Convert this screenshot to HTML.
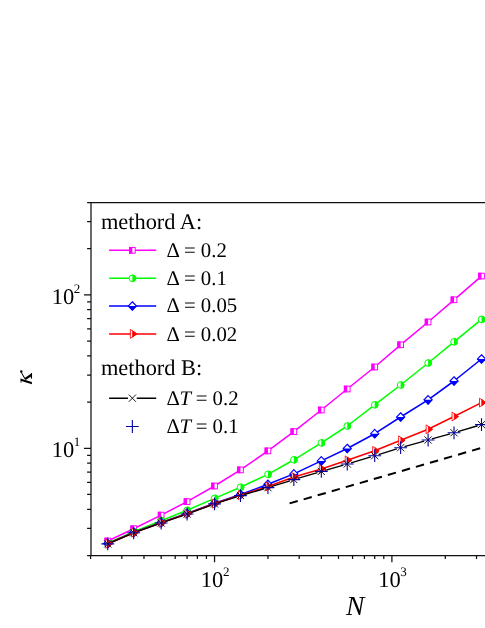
<!DOCTYPE html>
<html><head><meta charset="utf-8"><title>kappa vs N</title>
<style>html,body{margin:0;padding:0;background:#fff;}svg{display:block;text-rendering:geometricPrecision;}text{font-family:"Liberation Serif",serif;fill:#000;filter:grayscale(1);}</style>
</head><body>
<svg width="485" height="628" viewBox="0 0 485 628">
<rect width="485" height="628" fill="#fff"/>
<polyline fill="none" stroke="#ff00ff" stroke-width="1.55" stroke-linejoin="round" points="107.77,541 133.69,528.7 161.16,515.1 187.08,501.6 214.55,486 240.47,469.9 267.94,450.9 293.85,431.6 321.33,410 347.24,389 374.71,367 400.63,344.8 428.1,322 454.02,299.8 481.49,276.1"/>
<rect x="104.92" y="538.15" width="5.7" height="5.7" fill="#fff" stroke="#ff00ff" stroke-width="1"/>
<rect x="104.42" y="537.65" width="3.35" height="6.7" fill="#ff00ff"/>
<rect x="130.84" y="525.85" width="5.7" height="5.7" fill="#fff" stroke="#ff00ff" stroke-width="1"/>
<rect x="130.34" y="525.35" width="3.35" height="6.7" fill="#ff00ff"/>
<rect x="158.31" y="512.25" width="5.7" height="5.7" fill="#fff" stroke="#ff00ff" stroke-width="1"/>
<rect x="157.81" y="511.75" width="3.35" height="6.7" fill="#ff00ff"/>
<rect x="184.23" y="498.75" width="5.7" height="5.7" fill="#fff" stroke="#ff00ff" stroke-width="1"/>
<rect x="183.73" y="498.25" width="3.35" height="6.7" fill="#ff00ff"/>
<rect x="211.7" y="483.15" width="5.7" height="5.7" fill="#fff" stroke="#ff00ff" stroke-width="1"/>
<rect x="211.2" y="482.65" width="3.35" height="6.7" fill="#ff00ff"/>
<rect x="237.62" y="467.05" width="5.7" height="5.7" fill="#fff" stroke="#ff00ff" stroke-width="1"/>
<rect x="237.12" y="466.55" width="3.35" height="6.7" fill="#ff00ff"/>
<rect x="265.09" y="448.05" width="5.7" height="5.7" fill="#fff" stroke="#ff00ff" stroke-width="1"/>
<rect x="264.59" y="447.55" width="3.35" height="6.7" fill="#ff00ff"/>
<rect x="291" y="428.75" width="5.7" height="5.7" fill="#fff" stroke="#ff00ff" stroke-width="1"/>
<rect x="290.5" y="428.25" width="3.35" height="6.7" fill="#ff00ff"/>
<rect x="318.48" y="407.15" width="5.7" height="5.7" fill="#fff" stroke="#ff00ff" stroke-width="1"/>
<rect x="317.98" y="406.65" width="3.35" height="6.7" fill="#ff00ff"/>
<rect x="344.39" y="386.15" width="5.7" height="5.7" fill="#fff" stroke="#ff00ff" stroke-width="1"/>
<rect x="343.89" y="385.65" width="3.35" height="6.7" fill="#ff00ff"/>
<rect x="371.86" y="364.15" width="5.7" height="5.7" fill="#fff" stroke="#ff00ff" stroke-width="1"/>
<rect x="371.36" y="363.65" width="3.35" height="6.7" fill="#ff00ff"/>
<rect x="397.78" y="341.95" width="5.7" height="5.7" fill="#fff" stroke="#ff00ff" stroke-width="1"/>
<rect x="397.28" y="341.45" width="3.35" height="6.7" fill="#ff00ff"/>
<rect x="425.25" y="319.15" width="5.7" height="5.7" fill="#fff" stroke="#ff00ff" stroke-width="1"/>
<rect x="424.75" y="318.65" width="3.35" height="6.7" fill="#ff00ff"/>
<rect x="451.17" y="296.95" width="5.7" height="5.7" fill="#fff" stroke="#ff00ff" stroke-width="1"/>
<rect x="450.67" y="296.45" width="3.35" height="6.7" fill="#ff00ff"/>
<rect x="478.64" y="273.25" width="5.7" height="5.7" fill="#fff" stroke="#ff00ff" stroke-width="1"/>
<rect x="478.14" y="272.75" width="3.35" height="6.7" fill="#ff00ff"/>
<polyline fill="none" stroke="#00ff00" stroke-width="1.55" stroke-linejoin="round" points="107.77,543.3 133.69,531.6 161.16,520.8 187.08,510.3 214.55,498.4 240.47,487.2 267.94,474.4 293.85,459.8 321.33,442.9 347.24,426 374.71,404.8 400.63,385 428.1,363 454.02,341.8 481.49,319.4"/>
<circle cx="107.77" cy="543.3" r="3.3" fill="#fff" stroke="#00ff00" stroke-width="1"/>
<path d="M107.77 539.5 A3.8 3.8 0 0 1 107.77 547.1 Z" fill="#00ff00"/>
<circle cx="133.69" cy="531.6" r="3.3" fill="#fff" stroke="#00ff00" stroke-width="1"/>
<path d="M133.69 527.8 A3.8 3.8 0 0 1 133.69 535.4 Z" fill="#00ff00"/>
<circle cx="161.16" cy="520.8" r="3.3" fill="#fff" stroke="#00ff00" stroke-width="1"/>
<path d="M161.16 517 A3.8 3.8 0 0 1 161.16 524.6 Z" fill="#00ff00"/>
<circle cx="187.08" cy="510.3" r="3.3" fill="#fff" stroke="#00ff00" stroke-width="1"/>
<path d="M187.08 506.5 A3.8 3.8 0 0 1 187.08 514.1 Z" fill="#00ff00"/>
<circle cx="214.55" cy="498.4" r="3.3" fill="#fff" stroke="#00ff00" stroke-width="1"/>
<path d="M214.55 494.6 A3.8 3.8 0 0 1 214.55 502.2 Z" fill="#00ff00"/>
<circle cx="240.47" cy="487.2" r="3.3" fill="#fff" stroke="#00ff00" stroke-width="1"/>
<path d="M240.47 483.4 A3.8 3.8 0 0 1 240.47 491 Z" fill="#00ff00"/>
<circle cx="267.94" cy="474.4" r="3.3" fill="#fff" stroke="#00ff00" stroke-width="1"/>
<path d="M267.94 470.6 A3.8 3.8 0 0 1 267.94 478.2 Z" fill="#00ff00"/>
<circle cx="293.85" cy="459.8" r="3.3" fill="#fff" stroke="#00ff00" stroke-width="1"/>
<path d="M293.85 456 A3.8 3.8 0 0 1 293.85 463.6 Z" fill="#00ff00"/>
<circle cx="321.33" cy="442.9" r="3.3" fill="#fff" stroke="#00ff00" stroke-width="1"/>
<path d="M321.33 439.1 A3.8 3.8 0 0 1 321.33 446.7 Z" fill="#00ff00"/>
<circle cx="347.24" cy="426" r="3.3" fill="#fff" stroke="#00ff00" stroke-width="1"/>
<path d="M347.24 422.2 A3.8 3.8 0 0 1 347.24 429.8 Z" fill="#00ff00"/>
<circle cx="374.71" cy="404.8" r="3.3" fill="#fff" stroke="#00ff00" stroke-width="1"/>
<path d="M374.71 401 A3.8 3.8 0 0 1 374.71 408.6 Z" fill="#00ff00"/>
<circle cx="400.63" cy="385" r="3.3" fill="#fff" stroke="#00ff00" stroke-width="1"/>
<path d="M400.63 381.2 A3.8 3.8 0 0 1 400.63 388.8 Z" fill="#00ff00"/>
<circle cx="428.1" cy="363" r="3.3" fill="#fff" stroke="#00ff00" stroke-width="1"/>
<path d="M428.1 359.2 A3.8 3.8 0 0 1 428.1 366.8 Z" fill="#00ff00"/>
<circle cx="454.02" cy="341.8" r="3.3" fill="#fff" stroke="#00ff00" stroke-width="1"/>
<path d="M454.02 338 A3.8 3.8 0 0 1 454.02 345.6 Z" fill="#00ff00"/>
<circle cx="481.49" cy="319.4" r="3.3" fill="#fff" stroke="#00ff00" stroke-width="1"/>
<path d="M481.49 315.6 A3.8 3.8 0 0 1 481.49 323.2 Z" fill="#00ff00"/>
<polyline fill="none" stroke="#0000ff" stroke-width="1.55" stroke-linejoin="round" points="107.77,543.6 133.69,532.5 161.16,522.6 187.08,513.4 214.55,503.2 240.47,494.5 267.94,484.3 293.85,473.9 321.33,460.9 347.24,448.5 374.71,433.7 400.63,417 428.1,399.8 454.02,381 481.49,359"/>
<path d="M107.77 539.35 L111.82 543.6 L107.77 547.85 L103.72 543.6 Z" fill="#fff" stroke="#0000ff" stroke-width="1.15" stroke-linejoin="miter"/>
<path d="M103.12 543.6 L112.42 543.6 L107.77 548.45 Z" fill="#0000ff"/>
<path d="M133.69 528.25 L137.74 532.5 L133.69 536.75 L129.64 532.5 Z" fill="#fff" stroke="#0000ff" stroke-width="1.15" stroke-linejoin="miter"/>
<path d="M129.04 532.5 L138.34 532.5 L133.69 537.35 Z" fill="#0000ff"/>
<path d="M161.16 518.35 L165.21 522.6 L161.16 526.85 L157.11 522.6 Z" fill="#fff" stroke="#0000ff" stroke-width="1.15" stroke-linejoin="miter"/>
<path d="M156.51 522.6 L165.81 522.6 L161.16 527.45 Z" fill="#0000ff"/>
<path d="M187.08 509.15 L191.13 513.4 L187.08 517.65 L183.03 513.4 Z" fill="#fff" stroke="#0000ff" stroke-width="1.15" stroke-linejoin="miter"/>
<path d="M182.43 513.4 L191.73 513.4 L187.08 518.25 Z" fill="#0000ff"/>
<path d="M214.55 498.95 L218.6 503.2 L214.55 507.45 L210.5 503.2 Z" fill="#fff" stroke="#0000ff" stroke-width="1.15" stroke-linejoin="miter"/>
<path d="M209.9 503.2 L219.2 503.2 L214.55 508.05 Z" fill="#0000ff"/>
<path d="M240.47 490.25 L244.52 494.5 L240.47 498.75 L236.42 494.5 Z" fill="#fff" stroke="#0000ff" stroke-width="1.15" stroke-linejoin="miter"/>
<path d="M235.82 494.5 L245.12 494.5 L240.47 499.35 Z" fill="#0000ff"/>
<path d="M267.94 480.05 L271.99 484.3 L267.94 488.55 L263.89 484.3 Z" fill="#fff" stroke="#0000ff" stroke-width="1.15" stroke-linejoin="miter"/>
<path d="M263.29 484.3 L272.59 484.3 L267.94 489.15 Z" fill="#0000ff"/>
<path d="M293.85 469.65 L297.9 473.9 L293.85 478.15 L289.8 473.9 Z" fill="#fff" stroke="#0000ff" stroke-width="1.15" stroke-linejoin="miter"/>
<path d="M289.2 473.9 L298.5 473.9 L293.85 478.75 Z" fill="#0000ff"/>
<path d="M321.33 456.65 L325.38 460.9 L321.33 465.15 L317.28 460.9 Z" fill="#fff" stroke="#0000ff" stroke-width="1.15" stroke-linejoin="miter"/>
<path d="M316.68 460.9 L325.98 460.9 L321.33 465.75 Z" fill="#0000ff"/>
<path d="M347.24 444.25 L351.29 448.5 L347.24 452.75 L343.19 448.5 Z" fill="#fff" stroke="#0000ff" stroke-width="1.15" stroke-linejoin="miter"/>
<path d="M342.59 448.5 L351.89 448.5 L347.24 453.35 Z" fill="#0000ff"/>
<path d="M374.71 429.45 L378.76 433.7 L374.71 437.95 L370.66 433.7 Z" fill="#fff" stroke="#0000ff" stroke-width="1.15" stroke-linejoin="miter"/>
<path d="M370.06 433.7 L379.36 433.7 L374.71 438.55 Z" fill="#0000ff"/>
<path d="M400.63 412.75 L404.68 417 L400.63 421.25 L396.58 417 Z" fill="#fff" stroke="#0000ff" stroke-width="1.15" stroke-linejoin="miter"/>
<path d="M395.98 417 L405.28 417 L400.63 421.85 Z" fill="#0000ff"/>
<path d="M428.1 395.55 L432.15 399.8 L428.1 404.05 L424.05 399.8 Z" fill="#fff" stroke="#0000ff" stroke-width="1.15" stroke-linejoin="miter"/>
<path d="M423.45 399.8 L432.75 399.8 L428.1 404.65 Z" fill="#0000ff"/>
<path d="M454.02 376.75 L458.07 381 L454.02 385.25 L449.97 381 Z" fill="#fff" stroke="#0000ff" stroke-width="1.15" stroke-linejoin="miter"/>
<path d="M449.37 381 L458.67 381 L454.02 385.85 Z" fill="#0000ff"/>
<path d="M481.49 354.75 L485.54 359 L481.49 363.25 L477.44 359 Z" fill="#fff" stroke="#0000ff" stroke-width="1.15" stroke-linejoin="miter"/>
<path d="M476.84 359 L486.14 359 L481.49 363.85 Z" fill="#0000ff"/>
<polyline fill="none" stroke="#ff0000" stroke-width="1.55" stroke-linejoin="round" points="107.77,543.8 133.69,532.7 161.16,522.8 187.08,513.8 214.55,503.6 240.47,495.2 267.94,486.4 293.85,477.1 321.33,468.9 347.24,460.3 374.71,450.8 400.63,440.3 428.1,429.3 454.02,416.5 481.49,402.6"/>
<path d="M105.77 539.35 L112.17 543.8 L105.77 548.25 Z" fill="#fff" stroke="#ff0000" stroke-width="0.85" stroke-linejoin="miter"/>
<path d="M108.07 540.74 L112.17 543.8 L108.07 546.86 Z" fill="#ff0000" stroke="#ff0000" stroke-width="0.85"/>
<path d="M131.69 528.25 L138.09 532.7 L131.69 537.15 Z" fill="#fff" stroke="#ff0000" stroke-width="0.85" stroke-linejoin="miter"/>
<path d="M133.99 529.64 L138.09 532.7 L133.99 535.76 Z" fill="#ff0000" stroke="#ff0000" stroke-width="0.85"/>
<path d="M159.16 518.35 L165.56 522.8 L159.16 527.25 Z" fill="#fff" stroke="#ff0000" stroke-width="0.85" stroke-linejoin="miter"/>
<path d="M161.46 519.74 L165.56 522.8 L161.46 525.86 Z" fill="#ff0000" stroke="#ff0000" stroke-width="0.85"/>
<path d="M185.08 509.35 L191.48 513.8 L185.08 518.25 Z" fill="#fff" stroke="#ff0000" stroke-width="0.85" stroke-linejoin="miter"/>
<path d="M187.38 510.74 L191.48 513.8 L187.38 516.86 Z" fill="#ff0000" stroke="#ff0000" stroke-width="0.85"/>
<path d="M212.55 499.15 L218.95 503.6 L212.55 508.05 Z" fill="#fff" stroke="#ff0000" stroke-width="0.85" stroke-linejoin="miter"/>
<path d="M214.85 500.54 L218.95 503.6 L214.85 506.66 Z" fill="#ff0000" stroke="#ff0000" stroke-width="0.85"/>
<path d="M238.47 490.75 L244.87 495.2 L238.47 499.65 Z" fill="#fff" stroke="#ff0000" stroke-width="0.85" stroke-linejoin="miter"/>
<path d="M240.77 492.14 L244.87 495.2 L240.77 498.26 Z" fill="#ff0000" stroke="#ff0000" stroke-width="0.85"/>
<path d="M265.94 481.95 L272.34 486.4 L265.94 490.85 Z" fill="#fff" stroke="#ff0000" stroke-width="0.85" stroke-linejoin="miter"/>
<path d="M268.24 483.34 L272.34 486.4 L268.24 489.46 Z" fill="#ff0000" stroke="#ff0000" stroke-width="0.85"/>
<path d="M291.85 472.65 L298.25 477.1 L291.85 481.55 Z" fill="#fff" stroke="#ff0000" stroke-width="0.85" stroke-linejoin="miter"/>
<path d="M294.15 474.04 L298.25 477.1 L294.15 480.16 Z" fill="#ff0000" stroke="#ff0000" stroke-width="0.85"/>
<path d="M319.33 464.45 L325.73 468.9 L319.33 473.35 Z" fill="#fff" stroke="#ff0000" stroke-width="0.85" stroke-linejoin="miter"/>
<path d="M321.63 465.84 L325.73 468.9 L321.63 471.96 Z" fill="#ff0000" stroke="#ff0000" stroke-width="0.85"/>
<path d="M345.24 455.85 L351.64 460.3 L345.24 464.75 Z" fill="#fff" stroke="#ff0000" stroke-width="0.85" stroke-linejoin="miter"/>
<path d="M347.54 457.24 L351.64 460.3 L347.54 463.36 Z" fill="#ff0000" stroke="#ff0000" stroke-width="0.85"/>
<path d="M372.71 446.35 L379.11 450.8 L372.71 455.25 Z" fill="#fff" stroke="#ff0000" stroke-width="0.85" stroke-linejoin="miter"/>
<path d="M375.01 447.74 L379.11 450.8 L375.01 453.86 Z" fill="#ff0000" stroke="#ff0000" stroke-width="0.85"/>
<path d="M398.63 435.85 L405.03 440.3 L398.63 444.75 Z" fill="#fff" stroke="#ff0000" stroke-width="0.85" stroke-linejoin="miter"/>
<path d="M400.93 437.24 L405.03 440.3 L400.93 443.36 Z" fill="#ff0000" stroke="#ff0000" stroke-width="0.85"/>
<path d="M426.1 424.85 L432.5 429.3 L426.1 433.75 Z" fill="#fff" stroke="#ff0000" stroke-width="0.85" stroke-linejoin="miter"/>
<path d="M428.4 426.24 L432.5 429.3 L428.4 432.36 Z" fill="#ff0000" stroke="#ff0000" stroke-width="0.85"/>
<path d="M452.02 412.05 L458.42 416.5 L452.02 420.95 Z" fill="#fff" stroke="#ff0000" stroke-width="0.85" stroke-linejoin="miter"/>
<path d="M454.32 413.44 L458.42 416.5 L454.32 419.56 Z" fill="#ff0000" stroke="#ff0000" stroke-width="0.85"/>
<path d="M479.49 398.15 L485.89 402.6 L479.49 407.05 Z" fill="#fff" stroke="#ff0000" stroke-width="0.85" stroke-linejoin="miter"/>
<path d="M481.79 399.54 L485.89 402.6 L481.79 405.66 Z" fill="#ff0000" stroke="#ff0000" stroke-width="0.85"/>
<path d="M111.45 542.33 L130.01 534.37 M137.46 531.46 L157.39 524.34 M164.94 521.69 L183.3 515.31 M190.83 512.62 L210.8 505.28 M218.36 502.68 L236.66 496.82 M244.31 494.49 L264.1 488.76 M271.76 486.46 L290.03 480.79 M297.69 478.46 L317.49 472.54 M325.17 470.3 L343.39 465.1 M351.07 462.84 L370.88 456.86 M378.54 454.52 L396.81 448.88 M404.48 446.62 L424.25 441.08 M431.95 438.93 L450.16 433.87 M457.85 431.66 L477.66 425.74" stroke="#000000" stroke-width="1.35" fill="none"/>
<path d="M104.17 540.3 L111.37 547.5 M104.17 547.5 L111.37 540.3" stroke="#000000" stroke-width="0.9" fill="none"/>
<path d="M130.09 529.2 L137.29 536.4 M130.09 536.4 L137.29 529.2" stroke="#000000" stroke-width="0.9" fill="none"/>
<path d="M157.56 519.4 L164.76 526.6 M157.56 526.6 L164.76 519.4" stroke="#000000" stroke-width="0.9" fill="none"/>
<path d="M183.48 510.4 L190.68 517.6 M183.48 517.6 L190.68 510.4" stroke="#000000" stroke-width="0.9" fill="none"/>
<path d="M210.95 500.3 L218.15 507.5 M210.95 507.5 L218.15 500.3" stroke="#000000" stroke-width="0.9" fill="none"/>
<path d="M236.87 492 L244.07 499.2 M236.87 499.2 L244.07 492" stroke="#000000" stroke-width="0.9" fill="none"/>
<path d="M264.34 484.05 L271.54 491.25 M264.34 491.25 L271.54 484.05" stroke="#000000" stroke-width="0.9" fill="none"/>
<path d="M290.25 476 L297.45 483.2 M290.25 483.2 L297.45 476" stroke="#000000" stroke-width="0.9" fill="none"/>
<path d="M317.73 467.8 L324.93 475 M317.73 475 L324.93 467.8" stroke="#000000" stroke-width="0.9" fill="none"/>
<path d="M343.64 460.4 L350.84 467.6 M343.64 467.6 L350.84 460.4" stroke="#000000" stroke-width="0.9" fill="none"/>
<path d="M371.11 452.1 L378.31 459.3 M371.11 459.3 L378.31 452.1" stroke="#000000" stroke-width="0.9" fill="none"/>
<path d="M397.03 444.1 L404.23 451.3 M397.03 451.3 L404.23 444.1" stroke="#000000" stroke-width="0.9" fill="none"/>
<path d="M424.5 436.4 L431.7 443.6 M424.5 443.6 L431.7 436.4" stroke="#000000" stroke-width="0.9" fill="none"/>
<path d="M450.42 429.2 L457.62 436.4 M450.42 436.4 L457.62 429.2" stroke="#000000" stroke-width="0.9" fill="none"/>
<path d="M477.89 421 L485.09 428.2 M477.89 428.2 L485.09 421" stroke="#000000" stroke-width="0.9" fill="none"/>
<path d="M101.37 543.9 L114.17 543.9 M107.77 537.5 L107.77 550.3" stroke="#0000a0" stroke-width="1.1" fill="none"/>
<path d="M127.29 532.8 L140.09 532.8 M133.69 526.4 L133.69 539.2" stroke="#0000a0" stroke-width="1.1" fill="none"/>
<path d="M154.76 523 L167.56 523 M161.16 516.6 L161.16 529.4" stroke="#0000a0" stroke-width="1.1" fill="none"/>
<path d="M180.68 514 L193.48 514 M187.08 507.6 L187.08 520.4" stroke="#0000a0" stroke-width="1.1" fill="none"/>
<path d="M208.15 503.9 L220.95 503.9 M214.55 497.5 L214.55 510.3" stroke="#0000a0" stroke-width="1.1" fill="none"/>
<path d="M234.07 495.6 L246.87 495.6 M240.47 489.2 L240.47 502" stroke="#0000a0" stroke-width="1.1" fill="none"/>
<path d="M261.54 487.65 L274.34 487.65 M267.94 481.25 L267.94 494.05" stroke="#0000a0" stroke-width="1.1" fill="none"/>
<path d="M287.45 479.6 L300.25 479.6 M293.85 473.2 L293.85 486" stroke="#0000a0" stroke-width="1.1" fill="none"/>
<path d="M314.93 471.4 L327.73 471.4 M321.33 465 L321.33 477.8" stroke="#0000a0" stroke-width="1.1" fill="none"/>
<path d="M340.84 464 L353.64 464 M347.24 457.6 L347.24 470.4" stroke="#0000a0" stroke-width="1.1" fill="none"/>
<path d="M368.31 455.7 L381.11 455.7 M374.71 449.3 L374.71 462.1" stroke="#0000a0" stroke-width="1.1" fill="none"/>
<path d="M394.23 447.7 L407.03 447.7 M400.63 441.3 L400.63 454.1" stroke="#0000a0" stroke-width="1.1" fill="none"/>
<path d="M421.7 440 L434.5 440 M428.1 433.6 L428.1 446.4" stroke="#0000a0" stroke-width="1.1" fill="none"/>
<path d="M447.62 432.8 L460.42 432.8 M454.02 426.4 L454.02 439.2" stroke="#0000a0" stroke-width="1.1" fill="none"/>
<path d="M475.09 424.6 L487.89 424.6 M481.49 418.2 L481.49 431" stroke="#0000a0" stroke-width="1.1" fill="none"/>
<line x1="289.6" y1="503.4" x2="480.4" y2="448.2" stroke="#000" stroke-width="2" stroke-dasharray="8.45 6.16"/>
<g stroke="#111" stroke-width="1.25" fill="none">
<path d="M487 202.5 L91.0 202.5 L91.0 555.5 M91.0 555.5 L487 555.5"/>
<path d="M87.1 555.5 L91 555.5 M87.1 528.49 L91 528.49 M87.1 509.32 L91 509.32 M87.1 494.45 L91 494.45 M87.1 482.31 L91 482.31 M87.1 472.03 L91 472.03 M87.1 463.14 L91 463.14 M87.1 455.29 L91 455.29 M84 448.27 L91 448.27 M87.1 402.09 L91 402.09 M87.1 375.08 L91 375.08 M87.1 355.91 L91 355.91 M87.1 341.04 L91 341.04 M87.1 328.9 L91 328.9 M87.1 318.63 L91 318.63 M87.1 309.73 L91 309.73 M87.1 301.88 L91 301.88 M84 294.86 L91 294.86 M87.1 248.68 L91 248.68 M87.1 221.67 L91 221.67 M87.1 202.5 L91 202.5 M90.59 555.5 L90.59 558.9 M121.82 555.5 L121.82 558.9 M143.98 555.5 L143.98 558.9 M161.16 555.5 L161.16 558.9 M175.21 555.5 L175.21 558.9 M187.08 555.5 L187.08 558.9 M197.36 555.5 L197.36 558.9 M206.43 555.5 L206.43 558.9 M214.55 555.5 L214.55 562.3 M267.94 555.5 L267.94 558.9 M299.17 555.5 L299.17 558.9 M321.33 555.5 L321.33 558.9 M338.51 555.5 L338.51 558.9 M352.56 555.5 L352.56 558.9 M364.43 555.5 L364.43 558.9 M374.71 555.5 L374.71 558.9 M383.78 555.5 L383.78 558.9 M391.9 555.5 L391.9 562.3 M445.29 555.5 L445.29 558.9 M476.52 555.5 L476.52 558.9"/>
</g>
<text x="80.3" y="303.66" font-size="22.5" text-anchor="end">10<tspan font-size="13" dy="-11" dx="-0.4">2</tspan></text>
<text x="80.3" y="457.07" font-size="22.5" text-anchor="end">10<tspan font-size="13" dy="-11" dx="-0.4">1</tspan></text>
<text x="215.15" y="587.4" font-size="22.5" text-anchor="middle">10<tspan font-size="13" dy="-11" dx="-0.4">2</tspan></text>
<text x="392.5" y="587.4" font-size="22.5" text-anchor="middle">10<tspan font-size="13" dy="-11" dx="-0.4">3</tspan></text>
<text x="355.1" y="615.1" font-size="27.5" font-style="italic" text-anchor="middle">N</text>
<g fill="#000" stroke="none">
<path d="M20.41 378.57 L31.91 381.98 L31.91 384.14 L21.40 380.99 L21.40 382.72 L20.66 382.72 Z"/>
<path d="M24.24 378.20 L30.55 374.12 L31.29 373.01 L32.04 373.01 L32.04 378.82 L31.29 378.82 L30.55 376.84 L25.73 380.06 Z"/>
<path d="M24.37 378.70 L20.84 372.39 L21.59 371.89 L25.23 378.33 Z"/>
<circle cx="21.28" cy="371.4" r="1.24"/>
</g>
<text x="100.9" y="229.4" font-size="22.4">methord A:</text>
<text x="100.9" y="374.6" font-size="22.4">methord B:</text>
<line x1="109.1" y1="250.3" x2="156.2" y2="250.3" stroke="#ff00ff" stroke-width="1.55"/>
<rect x="129.5" y="247.45" width="5.7" height="5.7" fill="#fff" stroke="#ff00ff" stroke-width="1"/>
<rect x="129" y="246.95" width="3.35" height="6.7" fill="#ff00ff"/>
<text x="166.5" y="257" font-size="20.8">Δ = 0.2</text>
<line x1="109.1" y1="278.3" x2="156.2" y2="278.3" stroke="#00ff00" stroke-width="1.55"/>
<circle cx="132.35" cy="278.3" r="3.3" fill="#fff" stroke="#00ff00" stroke-width="1"/>
<path d="M132.35 274.5 A3.8 3.8 0 0 1 132.35 282.1 Z" fill="#00ff00"/>
<text x="166.5" y="284.8" font-size="20.8">Δ = 0.1</text>
<line x1="109.1" y1="306" x2="156.2" y2="306" stroke="#0000ff" stroke-width="1.55"/>
<path d="M132.35 301.75 L136.4 306 L132.35 310.25 L128.3 306 Z" fill="#fff" stroke="#0000ff" stroke-width="1.15" stroke-linejoin="miter"/>
<path d="M127.7 306 L137 306 L132.35 310.85 Z" fill="#0000ff"/>
<text x="166.5" y="312.2" font-size="20.8">Δ = 0.05</text>
<line x1="109.1" y1="333.9" x2="156.2" y2="333.9" stroke="#ff0000" stroke-width="1.55"/>
<path d="M130.35 329.45 L136.75 333.9 L130.35 338.35 Z" fill="#fff" stroke="#ff0000" stroke-width="0.85" stroke-linejoin="miter"/>
<path d="M132.65 330.84 L136.75 333.9 L132.65 336.96 Z" fill="#ff0000" stroke="#ff0000" stroke-width="0.85"/>
<text x="166.5" y="340.7" font-size="20.8">Δ = 0.02</text>
<path d="M109.1 398.2 L127.95 398.2 M136.75 398.2 L156.2 398.2" stroke="#000" stroke-width="1.35"/>
<path d="M128.75 394.6 L135.95 401.8 M128.75 401.8 L135.95 394.6" stroke="#000000" stroke-width="0.9" fill="none"/>
<text x="166.5" y="405" font-size="20.8">Δ<tspan font-style="italic" dx="-0.4">T</tspan><tspan dx="-0.6"> = 0.2</tspan></text>
<path d="M125.95 426.5 L138.75 426.5 M132.35 420.1 L132.35 432.9" stroke="#0000a0" stroke-width="1.1" fill="none"/>
<text x="166.5" y="433" font-size="20.8">Δ<tspan font-style="italic" dx="-0.4">T</tspan><tspan dx="-0.6"> = 0.1</tspan></text>
</svg></body></html>
